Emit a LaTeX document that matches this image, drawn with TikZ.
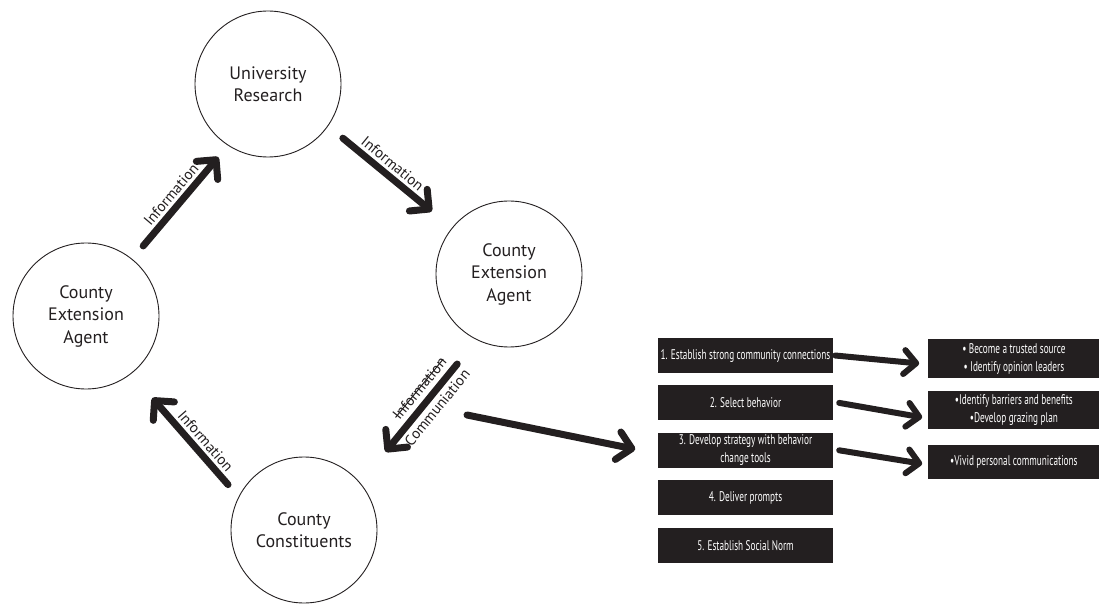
\documentclass[tikz,border=0pt]{standalone}
\usepackage{fontspec}
\setmainfont{PT Sans}
\newfontfamily\boxfont[FakeStretch=0.66]{PT Sans}
\usepackage{tikz}
\usetikzlibrary{arrows.meta,positioning}
\definecolor{ink}{HTML}{231F20}
\newcommand{\strikeword}[1]{\setbox0\hbox{#1}\rlap{\raisebox{0.32em}{\rule{\wd0}{1pt}}}\box0}
\tikzset{
  every node/.style={text=ink},
  phase/.style={circle,draw=ink,line width=0.9pt,minimum size=146pt,align=center,font=\fontsize{18}{22.5}\selectfont},
  stepbox/.style={fill=ink,text=white,minimum width=175pt,minimum height=35pt,align=center,inner sep=2pt,font=\boxfont\fontsize{14}{18}\selectfont},
  tipbox/.style={stepbox,minimum width=171pt},
  flow/.style={draw=ink,line width=7pt,line cap=round,-{Straight Barb[round,length=14pt,width=28pt]}},
  smallflow/.style={flow,line width=6pt,-{Straight Barb[round,length=12pt,width=24pt]}},
  infolabel/.style={font=\fontsize{15}{18}\selectfont,sloped,inner sep=3pt}
}
\begin{document}
\begin{tikzpicture}[x=1pt,y=1pt]
  \useasboundingbox (0,0) rectangle (1103,606);

  % outreach cycle
  \node[phase] (uniResearch) at (268,522) {University\\Research};
  \node[phase] (agentRight) at (509,332) {County\\Extension\\Agent};
  \node[phase] (agentLeft) at (86,290) {County\\Extension\\Agent};
  \node[phase] (constituents) at (304,76) {County\\Constituents};

  % behavior change steps
  \node[stepbox] (connect) at (745.5,250.5) {1. Establish strong community connections};
  \node[stepbox,below=12pt of connect] (behavior) {2. Select behavior};
  \node[stepbox,below=12pt of behavior] (strategy) {3. Develop strategy with behavior\\change tools};
  \node[stepbox,below=12pt of strategy] (prompts) {4. Deliver prompts};
  \node[stepbox,below=12pt of prompts] (socialNorm) {5. Establish Social Norm};

  \node[tipbox,minimum height=39pt,right=95pt of connect,yshift=-3pt] (trusted) {• Become a trusted source\\• Identify opinion leaders};
  \node[tipbox,minimum height=38pt,right=95pt of behavior,yshift=-7.5pt] (barriers) {•Identify barriers and benefits\\•Develop grazing plan};
  \node[tipbox,minimum height=34pt,right=95pt of strategy,yshift=-11.5pt] (vivid) {•Vivid personal communications};

  \coordinate (commTail) at (467,191);

  \draw[flow,shorten <=17pt,shorten >=15pt] (agentLeft.51.7) -- node[infolabel,above,pos=0.5]{Information} (uniResearch.-123);
  \draw[flow,shorten <=19pt,shorten >=26pt] (uniResearch.-35.2) -- node[infolabel,above,pos=0.46]{Information} (agentRight.141.2);
  \draw[flow,shorten <=31pt,shorten >=40pt] (agentRight.-116) -- node[infolabel,above=2pt,pos=0.4]{\strikeword{Information}} node[infolabel,below,pos=0.42]{Communiation} (constituents.40);
  \draw[flow,shorten <=16pt,shorten >=32pt] (constituents.153.4) -- node[infolabel,above,pos=0.39]{Information} (agentLeft.-52.4);
  \draw[flow,shorten >=23pt] (commTail) -- ([yshift=-3.5pt]strategy.west);

  \draw[smallflow] ([xshift=2pt]connect.east) -- ([xshift=-9pt,yshift=-5pt]trusted.west);
  \draw[smallflow] ([xshift=6pt]behavior.east) -- ([xshift=-6pt,yshift=-7pt]barriers.west);
  \draw[smallflow] ([xshift=6pt]strategy.east) -- ([xshift=-6pt,yshift=-2pt]vivid.west);
\end{tikzpicture}
\end{document}
